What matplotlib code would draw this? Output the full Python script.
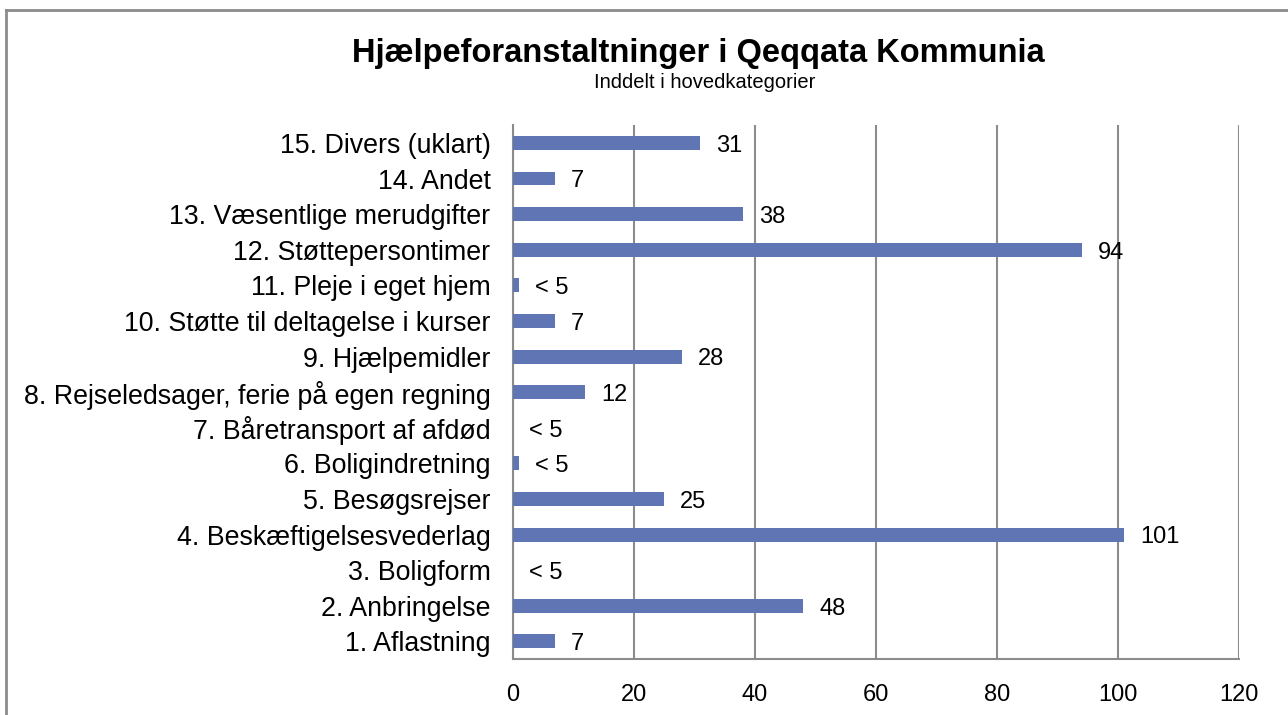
import matplotlib.pyplot as plt
from matplotlib.lines import Line2D

categories = [
    "1. Aflastning",
    "2. Anbringelse",
    "3. Boligform",
    "4. Beskæftigelsesvederlag",
    "5. Besøgsrejser",
    "6. Boligindretning",
    "7. Båretransport af afdød",
    "8. Rejseledsager, ferie på egen regning",
    "9. Hjælpemidler",
    "10. Støtte til deltagelse i kurser",
    "11. Pleje i eget hjem",
    "12. Støttepersontimer",
    "13. Væsentlige merudgifter",
    "14. Andet",
    "15. Divers (uklart)",
]
# values below 5 are masked in the source; bar lengths
values = [7, 48, 0, 101, 25, 1, 0, 12, 28, 7, 1, 94, 38, 7, 31]
value_labels = ["7", "48", "< 5", "101", "25", "< 5", "< 5", "12", "28", "7",
                "< 5", "94", "38", "7", "31"]
xticks = [0, 20, 40, 60, 80, 100, 120]

plt.rcParams['font.family'] = ['Liberation Sans', 'DejaVu Sans']

fig = plt.figure(figsize=(12.88, 7.15), dpi=100)
ax = fig.add_axes([0.398, 0.078, 0.564, 0.747])

grid_col = '#8c8c8c'
bar_col = '#6076b4'

pos = list(range(len(categories)))
ax.barh(pos, values, height=0.39, color=bar_col, zorder=3)

for p, v, lab in zip(pos, values, value_labels):
    ax.annotate(lab, (v, p), xytext=(11.5, -2), textcoords='offset points',
                ha='left', va='center', fontsize=17, color='black', zorder=4)

ax.set_xlim(0, 120)
ax.set_ylim(-0.5, len(categories) - 0.5)
ax.set_xticks(xticks)
ax.set_yticks(pos)
ax.set_yticklabels(categories, fontsize=19.3)
ax.tick_params(axis='both', length=0)
ax.tick_params(axis='x', pad=18, labelsize=17)
ax.tick_params(axis='y', pad=16)

ax.grid(True, axis='x', color=grid_col, linewidth=1.5, zorder=1)
ax.set_axisbelow(True)
for s in ['top', 'right']:
    ax.spines[s].set_visible(False)
for s in ['left', 'bottom']:
    ax.spines[s].set_color(grid_col)
    ax.spines[s].set_linewidth(1.5)

fig.text(0.542, 0.925, "Hjælpeforanstaltninger i Qeqqata Kommunia",
         ha='center', va='center', fontsize=23.5, fontweight='bold')
fig.text(0.547, 0.884, "Inddelt i hovedkategorier",
         ha='center', va='center', fontsize=14.5)

# outer chart border (only left and top visible in the crop)
fig.add_artist(Line2D([0.0047, 0.0047], [0.0, 0.986], transform=fig.transFigure,
                      color=grid_col, linewidth=2))
fig.add_artist(Line2D([0.0047, 1.0], [0.986, 0.986], transform=fig.transFigure,
                      color=grid_col, linewidth=2))

fig.savefig('out.png', dpi=100)
